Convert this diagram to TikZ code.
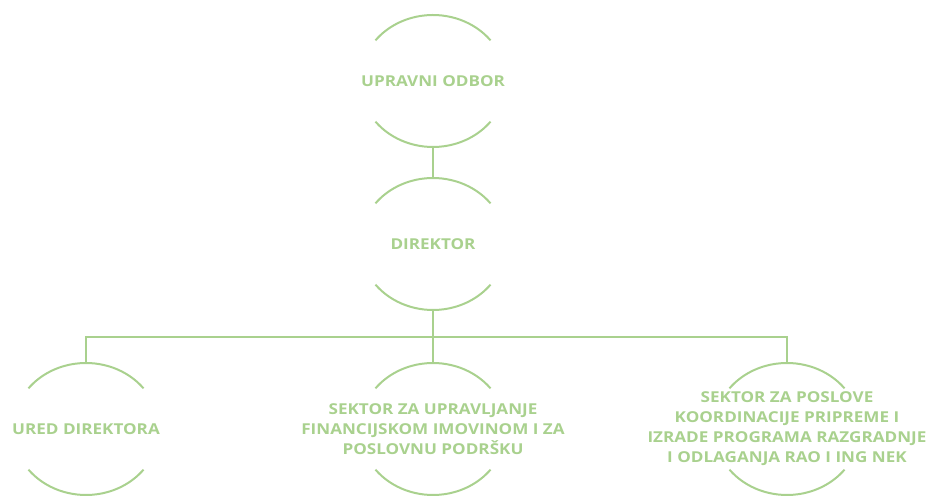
\documentclass[tikz,border=0pt]{standalone}
\usepackage{fontspec}
\newfontfamily\orgfont{Open Sans}[BoldFont={Open Sans Bold}, FakeStretch=1.14, BoldFeatures={FakeStretch=1.14}]
\definecolor{orggreen}{RGB}{169,209,142}
\tikzset{
  unit/.style={rectangle, inner sep=0pt, minimum width=146pt, minimum height=132pt,
    align=center, text=orggreen, font=\orgfont\bfseries\fontsize{15}{20}\selectfont},
  link/.style={draw=orggreen, line width=2pt}
}
\begin{document}
\begin{tikzpicture}[x=1pt,y=1pt]
  \useasboundingbox (0,0) rectangle (931,495);
  \node[unit] (odbor) at (433,414) {UPRAVNI ODBOR};
  \node[unit] (direktor) at (433,251) {DIREKTOR};
  \node[unit] (ured) at (86,66) {URED DIREKTORA};
  \node[unit] (sektorfin) at (433,66) {SEKTOR ZA UPRAVLJANJE\\FINANCIJSKOM IMOVINOM I ZA\\POSLOVNU PODRŠKU};
  \node[unit] (sektorrao) at (787,66) {SEKTOR ZA POSLOVE\\KOORDINACIJE PRIPREME I\\IZRADE PROGRAMA RAZGRADNJE\\I ODLAGANJA RAO I ING NEK};
  \coordinate (bar) at (433,158);
  \foreach \n in {odbor,direktor,ured,sektorfin,sektorrao} {
    \draw[link] ([shift={(38:73pt and 66pt)}]\n.center) arc[start angle=38, end angle=142, x radius=73pt, y radius=66pt];
    \draw[link] ([shift={(218:73pt and 66pt)}]\n.center) arc[start angle=218, end angle=322, x radius=73pt, y radius=66pt];
  }
  \begin{scope}[link]
    \draw (odbor.south) -- (direktor.north);
    \draw (direktor.south) -- (sektorfin.north);
    \draw (ured.north) |- (bar) -| (sektorrao.north);
  \end{scope}
\end{tikzpicture}
\end{document}
